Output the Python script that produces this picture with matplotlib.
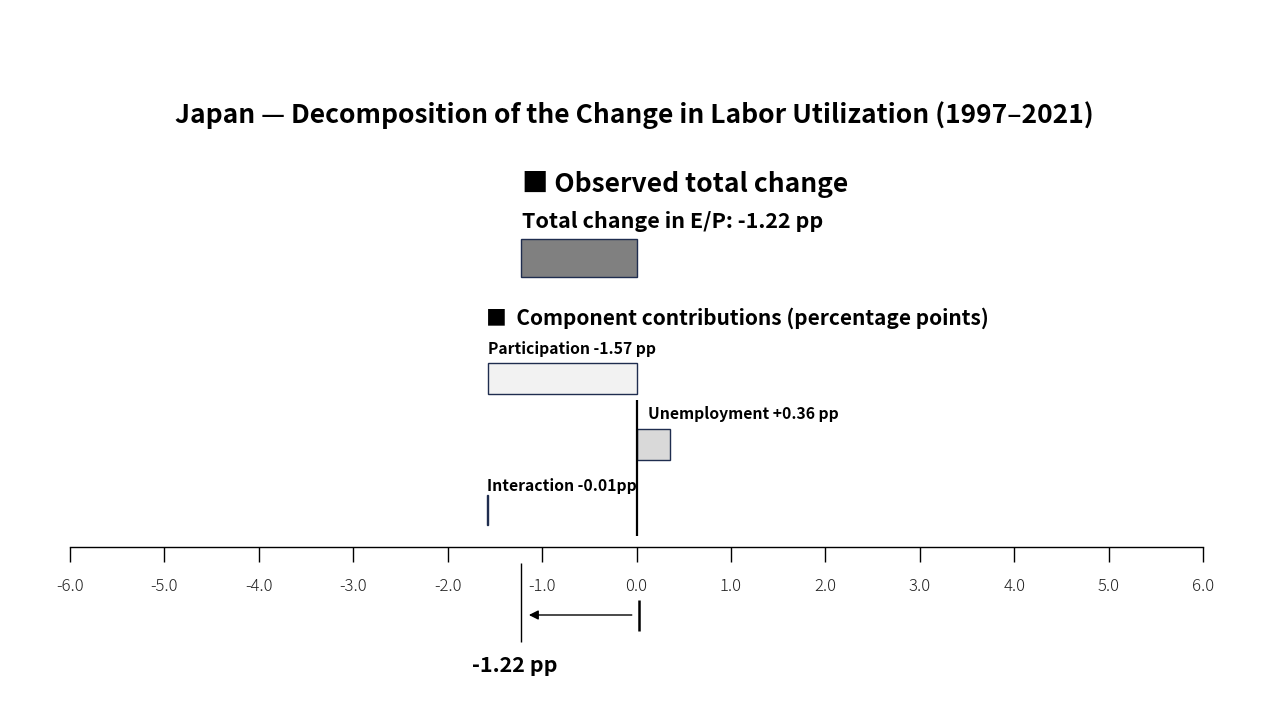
import matplotlib
matplotlib.use("Agg")
import matplotlib.pyplot as plt

plt.rcParams['font.family'] = ['Noto Sans CJK JP', 'DejaVu Sans']

# data (percentage points)
total_change = -1.22
components = ['Participation', 'Unemployment', 'Interaction']
contrib = [-1.57, 0.36, -0.01]
comp_labels = ['Participation -1.57 pp', 'Unemployment +0.36 pp', 'Interaction -0.01pp']
ticks = [-6, -5, -4, -3, -2, -1, 0, 1, 2, 3, 4, 5, 6]

navy = '#1f2d4f'
px = 1133 / 12  # pixels per pp on the axis

fig = plt.figure(figsize=(12.8, 7.2), dpi=100)
# axes spans the x-range of the axis line, y in pixel-like units from the top
ax = fig.add_axes([70 / 1280, 0, 1133 / 1280, 1])
ax.set_xlim(-6, 6)
ax.set_ylim(720, 0)
ax.patch.set_alpha(0)

for s in ['top', 'left', 'right']:
    ax.spines[s].set_visible(False)
ax.spines['bottom'].set_position(('data', 547))
ax.spines['bottom'].set_linewidth(1.0)
ax.set_yticks([])
ax.set_xticks(ticks)
ax.set_xticklabels([f'{t:.1f}' for t in ticks], fontsize=12, color='#222222',
                   fontweight='light')
ax.tick_params(axis='x', direction='out', length=11, width=1.0, pad=11)

fig.text(634 / 1280, 1 - 115 / 720,
         'Japan — Decomposition of the Change in Labor Utilization (1997–2021)',
         ha='center', va='center', fontsize=19, fontweight='bold')

# observed total
ax.text(-6 + (522 - 70) / px, 185, '■ Observed total change', fontsize=19,
        fontweight='bold', va='center', ha='left')
ax.text(-6 + (522 - 70) / px, 221, f'Total change in E/P: {total_change:.2f} pp',
        fontsize=15.5, fontweight='bold', va='center', ha='left')
ax.barh(258, total_change, left=0, height=38, color='#808080', edgecolor=navy,
        linewidth=1.0)

# components
ax.text(-6 + (486 - 70) / px, 318, '■  Component contributions (percentage points)',
        fontsize=15, fontweight='bold', va='center', ha='left')

part, unemp, inter = contrib
ax.barh(378.5, part, left=0, height=31, color='#f2f2f2', edgecolor=navy, linewidth=1.0)
ax.barh(444.5, unemp, left=0, height=31, color='#d9d9d9', edgecolor=navy, linewidth=1.0)
ax.barh(510, inter, left=part, height=30, color=navy, edgecolor=navy, linewidth=1.0)

ax.text(part, 349, comp_labels[0], fontsize=11.3, fontweight='bold', va='center', ha='left')
ax.text(unemp - 0.24, 414, comp_labels[1], fontsize=11.3, fontweight='bold',
        va='center', ha='left')
ax.text(part + inter, 486, comp_labels[2], fontsize=11.3, fontweight='bold',
        va='center', ha='left')

ax.vlines(0, 400, 536, color='black', linewidth=1.6)

# marker of total change below the axis
ax.vlines(total_change, 563, 642, color='black', linewidth=1.0)
ax.vlines(0.03, 600, 631, color='black', linewidth=1.8)
ax.annotate('', xy=(total_change + 0.08, 615), xytext=(-0.05, 615),
            arrowprops=dict(arrowstyle='-|>', color='black', lw=1.0,
                            mutation_scale=14, shrinkA=0, shrinkB=0))
ax.text(total_change - 0.07, 666, f'{total_change:.2f} pp', fontsize=15.5,
        fontweight='bold', ha='center', va='center')

fig.savefig('out.png', dpi=100)
